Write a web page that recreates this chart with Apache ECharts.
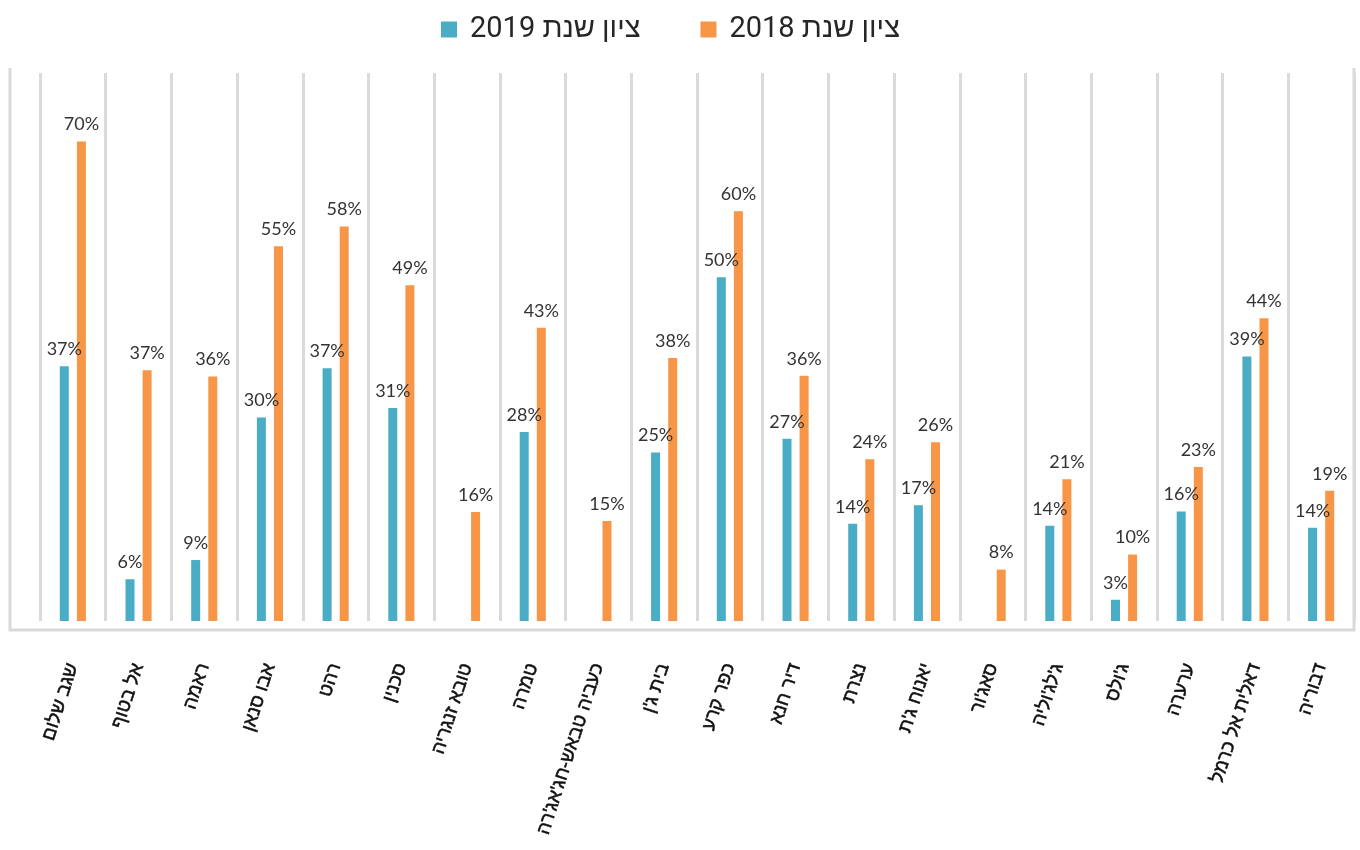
<!DOCTYPE html>
<html>
<head>
<meta charset="utf-8">
<script src="https://cdn.jsdelivr.net/npm/echarts@6/dist/echarts.min.js"></script>
<style>
  html, body { margin: 0; padding: 0; background: #fff; }
  #chart { width: 1360px; height: 850px; }
</style>
</head>
<body>
<div id="chart"></div>
<script>
// localities, left to right as in the original
const towns = [
  'שגב שלום', 'אל בטוף', 'ראמה', 'אבו סנאן', 'רהט', 'סכנין', 'טובא זנגריה',
  'טמרה', "כעביה טבאש-חג'אג'רה", "בית ג'ן", 'כפר קרע', 'דיר חנא', 'נצרת',
  "יאנוח ג'ת", "סאג'ור", "ג'לג'וליה", "ג'ולס", 'ערערה', 'דאלית אל כרמל', 'דבוריה'
];

// percent scores (null = no 2019 value)
const score2019 = [37.2, 6.1, 8.9, 29.7, 36.9, 31.1, null, 27.6, null, 24.6,
  50.2, 26.6, 14.2, 16.9, null, 13.9, 3.1, 16.0, 38.6, 13.6];
const score2018 = [70.0, 36.6, 35.7, 54.7, 57.6, 49.0, 15.9, 42.8, 14.6, 38.4,
  59.8, 35.8, 23.6, 26.1, 7.5, 20.7, 9.7, 22.5, 44.2, 19.0];

const seriesNames = ['ציון שנת 2019', 'ציון שנת 2018'];
const colors = ['#4bacc6', '#f79646'];

const chart = echarts.init(document.getElementById('chart'));

const pctLabel = {
  show: true,
  position: 'top',
  distance: 8,
  fontFamily: 'Lato, "Open Sans", sans-serif',
  fontSize: 18,
  fontWeight: 'normal',
  color: '#333',
  formatter: p => (p.value == null ? '' : Math.round(p.value) + '%')
};

chart.setOption({
  animation: false,
  legend: {
    top: 10,
    left: 436,
    itemWidth: 16,
    itemHeight: 16,
    itemGap: 60,
    icon: 'rect',
    textStyle: {
      fontFamily: 'Roboto, "Liberation Sans", sans-serif',
      fontSize: 29,
      color: '#262626',
      padding: [0, 0, 0, 8]
    },
    data: seriesNames
  },
  grid: {
    left: 40,
    right: 6,
    top: 73,
    bottom: 229
  },
  xAxis: {
    type: 'category',
    data: towns,
    axisLine: { show: false },
    axisTick: { show: false },
    splitLine: {
      show: true,
      lineStyle: { color: '#dadada', width: 3 }
    },
    axisLabel: {
      interval: 0,
      rotate: 72,
      margin: 43,
      fontFamily: '"Liberation Sans", "DejaVu Sans", sans-serif',
      fontSize: 19,
      color: '#111',
      textBorderColor: '#111',
      textBorderWidth: 0.5
    }
  },
  yAxis: {
    type: 'value',
    min: 0,
    max: 80,
    show: false,
    splitLine: { show: false }
  },
  // outer frame (left, bottom, right sides)
  graphic: [{
    type: 'polyline',
    shape: { points: [[10, 68], [10, 630], [1354, 630], [1354, 68]] },
    style: { stroke: '#d9d9d9', lineWidth: 3, fill: null },
    z: 0
  }],
  series: [
    {
      name: seriesNames[0],
      type: 'bar',
      data: score2019,
      barWidth: 9,
      barGap: '90%',
      itemStyle: { color: colors[0] },
      label: pctLabel
    },
    {
      name: seriesNames[1],
      type: 'bar',
      data: score2018,
      barWidth: 9,
      itemStyle: { color: colors[1] },
      label: pctLabel
    }
  ]
});

window.addEventListener('resize', () => chart.resize());
</script>
</body>
</html>
